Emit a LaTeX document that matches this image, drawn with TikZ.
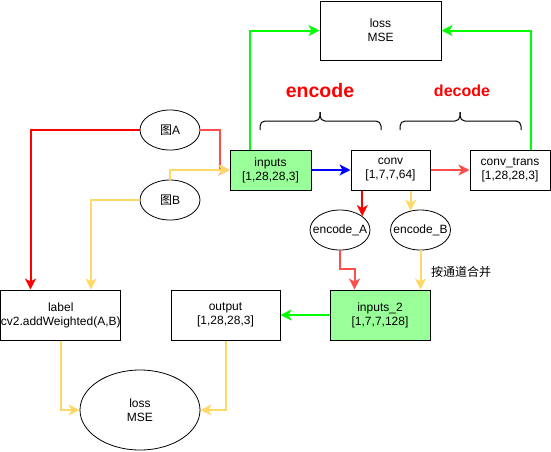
\documentclass[tikz,border=0pt]{standalone}
\usepackage{fontspec}
\setmainfont{Liberation Sans}
\newfontfamily\cjk{Noto Sans CJK SC}
\usetikzlibrary{arrows.meta,calc,shapes.geometric}
\definecolor{ygold}{HTML}{FFD966}
\definecolor{gline}{HTML}{00FF00}
\definecolor{gfill}{HTML}{99FF99}
\definecolor{bline}{HTML}{0000FF}
\definecolor{rline}{HTML}{FF0000}
\definecolor{rlight}{HTML}{FF4D4D}
\newcommand{\zb}[1]{\makebox[0pt]{#1}}
\begin{document}
\begin{tikzpicture}[x=1pt,y=-1pt,
  txt/.style={font=\fontsize{12}{14}\selectfont, align=center},
  box/.style={txt, draw, line width=1pt, inner sep=0pt, rectangle},
  ell/.style={txt, draw, line width=0.8pt, ellipse, inner sep=0pt},
  conn/.style={line width=2pt, -{Stealth[length=11pt,width=11pt,inset=3pt]}},
  bracestyle/.style={line width=1pt, rounded corners=5pt}
]
\useasboundingbox (0,0) rectangle (551,451);
\fill[white] (0,0) rectangle (551,451);

% nodes
\node[box, minimum width=121pt, minimum height=59pt] (lossTop) at (380.5,30.5) {loss\\MSE};
\node[box, fill=gfill, minimum width=81pt, minimum height=40pt] (inputs) at (270.5,170) {inputs\\{}[1,28,28,3]};
\node[box, minimum width=79pt, minimum height=40pt] (conv) at (390.5,170) {conv\\{}[1,7,7,64]};
\node[box, minimum width=80pt, minimum height=40pt] (convt) at (510,170) {conv\_trans\\{}[1,28,28,3]};
\node[ell, minimum width=60pt, minimum height=40pt] (imgA) at (170,130) {{\cjk 图}A};
\node[ell, minimum width=60pt, minimum height=40pt] (imgB) at (170,200) {{\cjk 图}B};
\node[ell, minimum width=60pt, minimum height=40pt] (encA) at (340,230) {\zb{encode\_A}};
\node[ell, minimum width=60pt, minimum height=40pt] (encB) at (420.5,230) {\zb{encode\_B}};
\node[box, minimum width=120pt, minimum height=50pt] (label) at (60.75,315) {label\\cv2.addWeighted(A,B)};
\node[box, minimum width=109pt, minimum height=50pt] (output) at (225.5,315) {output\\{}[1,28,28,3]};
\node[box, fill=gfill, minimum width=100pt, minimum height=50pt] (in2) at (380,315) {inputs\_2\\{}[1,7,7,128]};
\node[ell, minimum width=120pt, minimum height=80pt] (lossBot) at (140,410) {loss\\MSE};

\node[font=\fontsize{19.5}{22}\selectfont\bfseries, text=rline] (encT) at (320,91) {encode};
\node[font=\fontsize{16}{19}\selectfont\bfseries, text=rline] (decT) at (462,91) {decode};
\node[font=\fontsize{12}{14}\selectfont\cjk] (merge) at (461,272) {按通道合并};

% braces
\draw[bracestyle] (260,130) -- (260,121) -- (320,121) -- (320,112);
\draw[bracestyle] (381,130) -- (381,121) -- (320,121) -- (320,112);
\draw[bracestyle] (400,130) -- (400,121) -- (460,121) -- (460,112);
\draw[bracestyle] (521,130) -- (521,121) -- (460,121) -- (460,112);

% connectors
\draw[conn, gline] ($(inputs.north west)+(20,0)$) |- (lossTop.west);
\draw[conn, gline] ($(convt.north west)+(61,0)$) |- (lossTop.east);
\draw[conn, bline] (inputs.east) -- (conv.west);
\draw[conn, rlight] (conv.east) -- (convt.west);
\draw[conn, rline] (imgA.west) -| ($(label.north west)!0.25!(label.north east)$);
\draw[conn, rlight] (imgA.east) -| ($(inputs.west)+(-10,0)$) -- (inputs.west);
\draw[conn, ygold] (imgB.north) |- (inputs.west);
\draw[conn, ygold] (imgB.west) -| ($(label.north west)!0.75!(label.north east)$);
\draw[conn, rline] (encA.32 |- conv.south) -- (encA.32);
\draw[conn, ygold] (encB.117 |- conv.south) -- (encB.117);
\draw[conn, rlight] (encA.south) -- ++(0,19) -| ($(in2.north west)+(25,0)$);
\draw[conn, ygold] (encB.south) -- (encB.south |- in2.north);
\draw[conn, gline] (in2.west) -- (output.east);
\draw[conn, ygold] (label.south) |- (lossBot.west);
\draw[conn, ygold] (output.south) |- (lossBot.east);
\end{tikzpicture}
\end{document}
